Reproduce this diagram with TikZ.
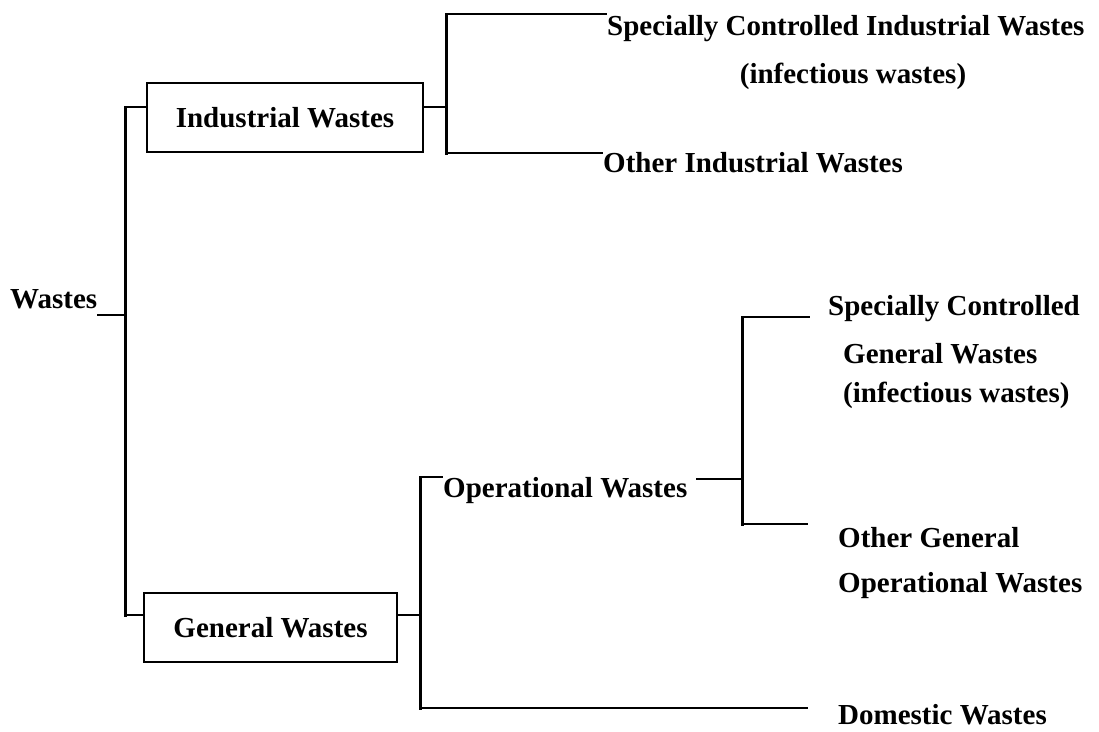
\documentclass[tikz,border=0pt]{standalone}
\usepackage{fontspec}
\setmainfont{Liberation Serif}
\begin{document}
\begin{tikzpicture}[x=1pt,y=-1pt,
  lbl/.style={inner sep=0pt, anchor=base west, font=\fontsize{29}{34}\selectfont\bfseries},
  hl/.style={line width=1.6pt},
  vl/.style={line width=3pt, line cap=rect},
  catbox/.style={draw, line width=2.2pt, inner sep=0pt, font=\fontsize{29}{34}\selectfont\bfseries}]
\useasboundingbox[fill=white] (0,0) rectangle (1099,731);

% nodes
\node[lbl] (wastes) at (10,308) {Wastes};
\node[catbox, minimum width=276pt, minimum height=69pt] (ind) at (285,117.5) {Industrial Wastes};
\node[catbox, minimum width=253pt, minimum height=69pt] (gen) at (270.5,627.5) {General Wastes};

\node[lbl] (sci1) at (607,35) {Specially Controlled Industrial Wastes};
\node[lbl, anchor=base] (sci2) at (853,83) {(infectious wastes)};
\node[lbl] (oiw) at (603,172) {Other Industrial Wastes};

\node[lbl] (op) at (443,497) {Operational Wastes};
\node[lbl] (scg1) at (828,315) {Specially Controlled};
\node[lbl] (scg2) at (843,363) {General Wastes};
\node[lbl] (scg3) at (843,402) {(infectious wastes)};
\node[lbl] (ogo1) at (838,547) {Other General};
\node[lbl] (ogo2) at (838,592) {Operational Wastes};
\node[lbl] (dom) at (838,724) {Domestic Wastes};

% junction coordinates
\coordinate (t1a) at (125,107);
\coordinate (t1m) at (125,315);
\coordinate (t1b) at (125,615);
\coordinate (t2a) at (446,14);
\coordinate (t2b) at (446,153);
\coordinate (t3a) at (420,477);
\coordinate (t3b) at (420,708);
\coordinate (t4a) at (742,317);
\coordinate (t4m) at (742,479);
\coordinate (t4b) at (742,524);

% connectors
\draw[hl] (wastes.base east |- t1m) -- (t1m);
\draw[vl] (t1a) -- (t1b);
\draw[hl] (t1a) -- (ind.west |- t1a);
\draw[hl] (t1b) -- (gen.west |- t1b);

\draw[hl] (ind.east |- t1a) -- (t2a |- t1a);
\draw[vl] (t2a) -- (t2b);
\draw[hl] (t2a) -- (sci1.west |- t2a);
\draw[hl] (t2b) -- (oiw.west |- t2b);

\draw[hl] (gen.east |- t1b) -- (t3a |- t1b);
\draw[vl] (t3a) -- (t3b);
\draw[hl] (t3a) -- (op.west |- t3a);
\draw[hl] ([xshift=9pt]op.east |- t4m) -- (t4m);

\draw[vl] (t4a) -- (t4b);
\draw[hl] (t4a) -- ([xshift=-18pt]scg1.west |- t4a);
\draw[hl] (t4b) -- ([xshift=-30pt]ogo1.west |- t4b);
\draw[hl] (t3b) -- ([xshift=-30pt]dom.west |- t3b);
\end{tikzpicture}
\end{document}
